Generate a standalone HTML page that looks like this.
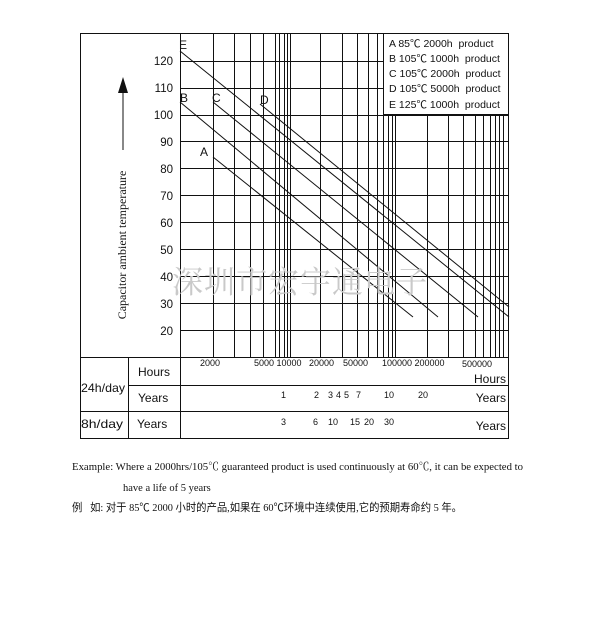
<!DOCTYPE html>
<html><head><meta charset="utf-8"><style>
html,body{margin:0;padding:0;background:#fff;}
svg{display:block;}
text{font-family:"Liberation Sans","Noto Sans CJK SC",sans-serif;fill:#111;}
.s{font-family:"Liberation Serif","Noto Serif CJK SC",serif;}
</style></head><body>
<svg width="600" height="631" viewBox="0 0 600 631" xmlns="http://www.w3.org/2000/svg">
<g stroke="#111" stroke-width="1" fill="none">
<rect x="80.5" y="33.5" width="428" height="405"/>
<line x1="180.5" y1="33" x2="180.5" y2="438"/>
<line x1="80" y1="357.5" x2="509" y2="357.5"/>
<line x1="128" y1="385.5" x2="509" y2="385.5"/>
<line x1="80" y1="411.5" x2="509" y2="411.5"/>
<line x1="128.5" y1="357" x2="128.5" y2="438"/>
<line x1="180" y1="61.5" x2="383" y2="61.5"/>
<line x1="180" y1="88.5" x2="383" y2="88.5"/>
<line x1="180" y1="115.5" x2="509" y2="115.5"/>
<line x1="180" y1="141.5" x2="509" y2="141.5"/>
<line x1="180" y1="168.5" x2="509" y2="168.5"/>
<line x1="180" y1="195.5" x2="509" y2="195.5"/>
<line x1="180" y1="222.5" x2="509" y2="222.5"/>
<line x1="180" y1="249.5" x2="509" y2="249.5"/>
<line x1="180" y1="276.5" x2="509" y2="276.5"/>
<line x1="180" y1="303.5" x2="509" y2="303.5"/>
<line x1="180" y1="330.5" x2="509" y2="330.5"/>
<path d="M213.5 33V357 M234.5 33V357 M250.5 33V357 M263.5 33V357 M275.5 33V357 M279.5 33V357 M284.5 33V357 M287.5 33V357 M290.5 33V357 M320.5 33V357 M342.5 33V357 M357.5 33V357 M368.5 33V357 M377.5 33V357 M383.5 33V357"/>
<path d="M388.5 114V357 M392.5 114V357 M395.5 114V357 M427.5 114V357 M448.5 114V357 M463.5 114V357 M475.5 114V357 M483.5 114V357 M490.5 114V357 M495.5 114V357 M499.5 114V357 M503.5 114V357"/>
<line x1="383" y1="114.5" x2="509" y2="114.5"/>
<line x1="213" y1="157" x2="413" y2="317"/>
<line x1="180" y1="102" x2="438" y2="317"/>
<line x1="213" y1="102" x2="478" y2="317"/>
<line x1="260" y1="104" x2="509" y2="307"/>
<line x1="180" y1="51" x2="509" y2="317"/>
<line x1="123" y1="150" x2="123" y2="90"/>
</g>
<polygon points="123,77 118,93 128,93" fill="#111"/>
<text x="172" y="293" class="s" font-size="31" style="fill:#c9c9c9" letter-spacing="1">深圳市宏宇通电子</text>
<g font-size="12">
<text x="179" y="49">E</text>
<text x="180" y="102">B</text>
<text x="212" y="102">C</text>
<text x="260" y="104">D</text>
<text x="200" y="156">A</text>
</g>
<g font-size="11.5" text-anchor="end">
<text x="173" y="65">120</text>
<text x="173" y="92">110</text>
<text x="173" y="119">100</text>
<text x="173" y="146">90</text>
<text x="173" y="173">80</text>
<text x="173" y="200">70</text>
<text x="173" y="227">60</text>
<text x="173" y="254">50</text>
<text x="173" y="281">40</text>
<text x="173" y="308">30</text>
<text x="173" y="335">20</text>
</g>
<text class="s" font-size="12" transform="translate(126,245) rotate(-90)" text-anchor="middle">Capacitor ambient temperature</text>
<g font-size="10.5">
<text x="389" y="47">A 85℃ 2000h &#160;product</text>
<text x="389" y="62">B 105℃ 1000h &#160;product</text>
<text x="389" y="77">C 105℃ 2000h &#160;product</text>
<text x="389" y="92">D 105℃ 5000h &#160;product</text>
<text x="389" y="108">E 125℃ 1000h &#160;product</text>
</g>
<g font-size="9">
<text x="200" y="366">2000</text>
<text x="254" y="366">5000 10000</text>
<text x="309" y="366">20000</text>
<text x="343" y="366">50000</text>
<text x="382" y="366">100000 200000</text>
<text x="462" y="367">500000</text>
</g>
<g font-size="12">
<text x="506" y="383" text-anchor="end">Hours</text>
<text x="138" y="376">Hours</text>
<text x="81" y="392" textLength="44" lengthAdjust="spacingAndGlyphs">24h/day</text>
<text x="138" y="402">Years</text>
<text x="506" y="402" text-anchor="end">Years</text>
<text x="81" y="428" textLength="42" lengthAdjust="spacingAndGlyphs">8h/day</text>
<text x="137" y="428">Years</text>
<text x="506" y="430" text-anchor="end">Years</text>
</g>
<g font-size="9">
<text x="281" y="398">1</text>
<text x="314" y="398">2</text>
<text x="328" y="398">3</text>
<text x="336" y="398">4</text>
<text x="344" y="398">5</text>
<text x="356" y="398">7</text>
<text x="384" y="398">10</text>
<text x="418" y="398">20</text>
<text x="281" y="425">3</text>
<text x="313" y="425">6</text>
<text x="328" y="425">10</text>
<text x="350" y="425">15</text>
<text x="364" y="425">20</text>
<text x="384" y="425">30</text>
</g>
<text class="s" x="72" y="470" font-size="11" textLength="451" lengthAdjust="spacingAndGlyphs">Example: Where a 2000hrs/105℃ guaranteed product is used continuously at 60℃, it can be expected to</text>
<text class="s" x="123" y="491" font-size="10.5">have a life of 5 years</text>
<text x="72" y="511" font-size="11" textLength="390" lengthAdjust="spacingAndGlyphs" style="font-family:'Liberation Serif','Noto Sans CJK SC',serif">例 &#160; 如: 对于 85℃ 2000 小时的产品,如果在 60℃环境中连续使用,它的预期寿命约 5 年。</text>
</svg>
</body></html>
